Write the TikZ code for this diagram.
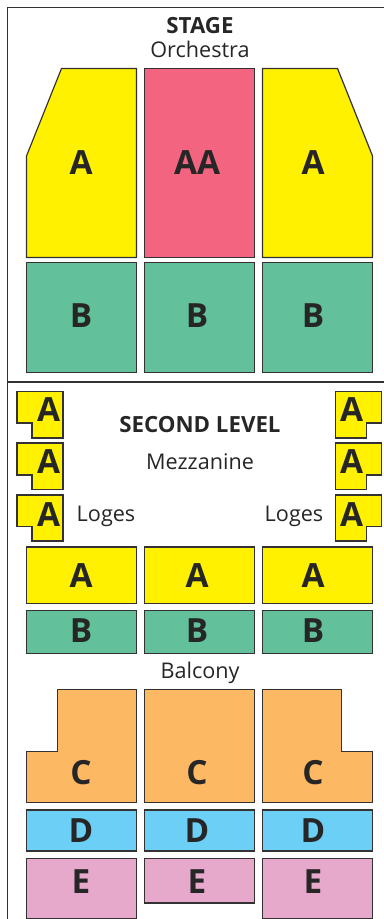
\documentclass[tikz,border=0pt]{standalone}
\usepackage{xcolor}
\usepackage{fontspec}
\setmainfont{Open Sans}
\definecolor{inkline}{HTML}{333132}
\definecolor{seatyellow}{HTML}{FFF100}
\definecolor{seatrose}{HTML}{F26480}
\definecolor{seatgreen}{HTML}{62C19B}
\definecolor{seatorange}{HTML}{FDB863}
\definecolor{seatblue}{HTML}{6BCFF6}
\definecolor{seatmauve}{HTML}{E6A9CC}

\begin{document}
\begin{tikzpicture}[
    x=0.75pt, y=-0.75pt,
    seat/.style={draw=inkline, line width=0.9pt, line join=miter},
    framerule/.style={draw=inkline, line width=0.9pt},
    seatlabel/.style={inner sep=0pt, text=black!85, font=\fontsize{25}{25}\selectfont\bfseries},
    headlabel/.style={inner sep=0pt, text=black!85, font=\fontsize{16.7}{17}\selectfont\bfseries},
    arealabel/.style={inner sep=0pt, text=black!85, font=\fontsize{16.2}{17}\selectfont}
]
\useasboundingbox (0,0) rectangle (384,919);

% Frame
\draw[framerule] (384,7.5) -- (7.5,7.5) -- (7.5,919);
\draw[framerule] (7.5,382) -- (384,382);

% Orchestra
\node[headlabel] (stage) at (200,25.5) {STAGE};
\node[arealabel] (orchestra) at (200,49.5) {Orchestra};
\draw[seat, fill=seatyellow] (61.5,68.5) -- (136.5,68.5) -- (136.5,257.5) -- (26.5,257.5) -- (26.5,156) -- cycle;
\draw[seat, fill=seatrose] (144.5,68.5) rectangle (254.5,257.5);
\draw[seat, fill=seatyellow] (262.5,68.5) -- (337.5,68.5) -- (372.5,156) -- (372.5,257.5) -- (262.5,257.5) -- cycle;
\node[seatlabel] (orchA1) at (81,163) {A};
\node[seatlabel] (orchAA) at (197,163) {AA};
\node[seatlabel] (orchA2) at (313,163) {A};

\draw[seat, fill=seatgreen] (26.5,262.5) rectangle (136.5,372.5);
\draw[seat, fill=seatgreen] (144.5,262.5) rectangle (254.5,372.5);
\draw[seat, fill=seatgreen] (262.5,262.5) rectangle (372.5,372.5);
\node[seatlabel] (orchB1) at (81,316) {B};
\node[seatlabel] (orchB2) at (197,316) {B};
\node[seatlabel] (orchB3) at (313,316) {B};

% Second level titles
\node[headlabel] (second) at (200,425) {SECOND LEVEL};
\node[arealabel] (mezz) at (200,461.5) {Mezzanine};
\node[arealabel] (logesL) at (106,516.5) {Loges};
\node[arealabel] (logesR) at (294,516.5) {Loges};

% Loges left
\draw[seat, fill=seatyellow] (17,391.5) -- (63,391.5) -- (63,438) -- (32,438) -- (32,423) -- (17,423) -- cycle;
\draw[seat, fill=seatyellow] (17,443) -- (63,443) -- (63,489.5) -- (32,489.5) -- (32,475) -- (17,475) -- cycle;
\draw[seat, fill=seatyellow] (17,495) -- (63,495) -- (63,541) -- (32,541) -- (32,526.5) -- (17,526.5) -- cycle;
\node[seatlabel] (logeL1) at (48.5,410) {A};
\node[seatlabel] (logeL2) at (48.5,462) {A};
\node[seatlabel] (logeL3) at (48.5,515) {A};

% Loges right
\draw[seat, fill=seatyellow] (335.5,391.5) -- (381.5,391.5) -- (381.5,423) -- (366.5,423) -- (366.5,438) -- (335.5,438) -- cycle;
\draw[seat, fill=seatyellow] (335.5,443) -- (381.5,443) -- (381.5,475) -- (366.5,475) -- (366.5,489.5) -- (335.5,489.5) -- cycle;
\draw[seat, fill=seatyellow] (335.5,495) -- (381.5,495) -- (381.5,526.5) -- (366.5,526.5) -- (366.5,541) -- (335.5,541) -- cycle;
\node[seatlabel] (logeR1) at (351.5,410) {A};
\node[seatlabel] (logeR2) at (351.5,462) {A};
\node[seatlabel] (logeR3) at (351.5,515) {A};

% Mezzanine
\draw[seat, fill=seatyellow] (26.5,547) rectangle (136.5,603.5);
\draw[seat, fill=seatyellow] (144.5,547) rectangle (254.5,603.5);
\draw[seat, fill=seatyellow] (262.5,547) rectangle (372.5,603.5);
\node[seatlabel] (mezzA1) at (81,576) {A};
\node[seatlabel] (mezzA2) at (197,576) {A};
\node[seatlabel] (mezzA3) at (313,576) {A};

\draw[seat, fill=seatgreen] (26.5,610.5) rectangle (136.5,653.5);
\draw[seat, fill=seatgreen] (144.5,610.5) rectangle (254.5,653.5);
\draw[seat, fill=seatgreen] (262.5,610.5) rectangle (372.5,653.5);
\node[seatlabel] (mezzB1) at (81,631) {B};
\node[seatlabel] (mezzB2) at (197,631) {B};
\node[seatlabel] (mezzB3) at (313,631) {B};

% Balcony
\node[arealabel] (balcony) at (200,673) {Balcony};
\draw[seat, fill=seatorange] (57.5,689.5) -- (136.5,689.5) -- (136.5,802.5) -- (26.5,802.5) -- (26.5,751.5) -- (57.5,751.5) -- cycle;
\draw[seat, fill=seatorange] (144.5,689.5) rectangle (254.5,802.5);
\draw[seat, fill=seatorange] (262.5,689.5) -- (341.5,689.5) -- (341.5,751.5) -- (372.5,751.5) -- (372.5,802.5) -- (262.5,802.5) -- cycle;
\node[seatlabel] (balcC1) at (81,773) {C};
\node[seatlabel] (balcC2) at (197,773) {C};
\node[seatlabel] (balcC3) at (313,773) {C};

\draw[seat, fill=seatblue] (26.5,810) rectangle (136.5,851);
\draw[seat, fill=seatblue] (144.5,810) rectangle (254.5,851);
\draw[seat, fill=seatblue] (262.5,810) rectangle (372.5,851);
\node[seatlabel] (balcD1) at (81,831) {D};
\node[seatlabel] (balcD2) at (197,831) {D};
\node[seatlabel] (balcD3) at (313,831) {D};

\draw[seat, fill=seatmauve] (26.5,858.5) rectangle (136.5,918.5);
\draw[seat, fill=seatmauve] (144.5,858.5) rectangle (254.5,903);
\draw[seat, fill=seatmauve] (262.5,858.5) rectangle (372.5,918.5);
\node[seatlabel] (balcE1) at (81,882) {E};
\node[seatlabel] (balcE2) at (197,882) {E};
\node[seatlabel] (balcE3) at (313,882) {E};

\end{tikzpicture}
\end{document}
